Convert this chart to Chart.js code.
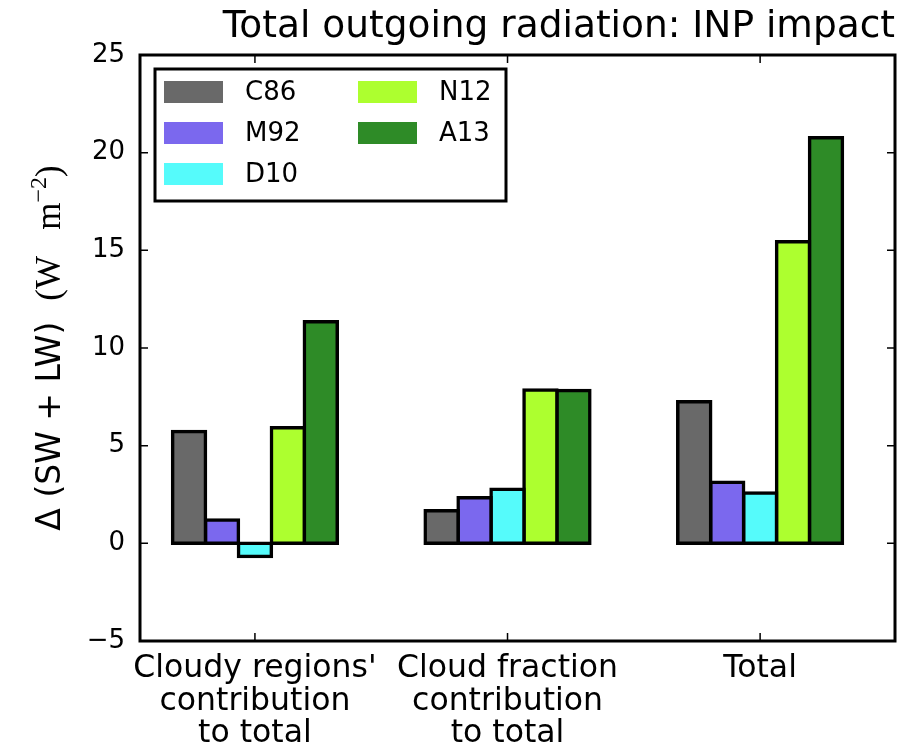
<!DOCTYPE html>
<html>
<head>
<meta charset="utf-8">
<script src="https://cdn.jsdelivr.net/npm/chart.js@4/dist/chart.umd.min.js"></script>
<style>
  html, body { margin: 0; padding: 0; background: #fff; }
  #wrap { width: 914px; height: 753px; }
</style>
</head>
<body>
<div id="wrap"><canvas id="inp"></canvas></div>
<script>
// categories (multi-line tick labels) and per-scheme values, W m-2
const categories = [
  ["Cloudy regions'", 'contribution', 'to total'],
  ['Cloud fraction', 'contribution', 'to total'],
  ['Total']
];
const schemes = ['C86', 'M92', 'D10', 'N12', 'A13'];
const c86 = [5.73, 1.67, 7.25];
const m92 = [1.2, 2.33, 3.13];
const d10 = [-0.68, 2.77, 2.58];
const n12 = [5.92, 7.85, 15.44];
const a13 = [11.35, 7.83, 20.76];
const colours = ['#696969', '#7b68ee', '#55fbfb', '#adff2f', '#2e8b27'];
const yTicks = [-5, 0, 5, 10, 15, 20, 25];

const FONT = 'DejaVu Sans';

const series = [c86, m92, d10, n12, a13];

const datasets = series.map((vals, k) => ({
  label: schemes[k],
  data: vals.map((v, i) => ({ x: i, y: v })),
  backgroundColor: colours[k],
  borderColor: '#000',
  borderWidth: 3.5,
  borderSkipped: false,
  inflateAmount: 1.75,
  categoryPercentage: 0.652,
  barPercentage: 1.0
}));

// frame with inward ticks on all four sides, legend box, rotated y label
const frame = {
  id: 'frame',
  afterDatasetsDraw(chart) {
    const { ctx, chartArea: a, scales: { x, y } } = chart;
    ctx.save();
    ctx.strokeStyle = '#000';
    ctx.lineWidth = 1.5;
    ctx.beginPath();
    yTicks.forEach(v => {
      const py = y.getPixelForValue(v);
      ctx.moveTo(a.left, py); ctx.lineTo(a.left + 8, py);
      ctx.moveTo(a.right, py); ctx.lineTo(a.right - 8, py);
    });
    [0, 1, 2].forEach(v => {
      const px = x.getPixelForValue(v);
      ctx.moveTo(px, a.bottom); ctx.lineTo(px, a.bottom - 8);
      ctx.moveTo(px, a.top); ctx.lineTo(px, a.top + 8);
    });
    ctx.stroke();
    ctx.lineWidth = 3;
    ctx.strokeRect(a.left, a.top, a.right - a.left, a.bottom - a.top);

    // legend, two columns filled top to bottom
    ctx.fillStyle = '#fff';
    ctx.fillRect(155, 69, 351, 132);
    ctx.strokeRect(155, 69, 351, 132);
    ctx.font = '26px "' + FONT + '"';
    ctx.textBaseline = 'middle';
    chart.data.datasets.forEach((ds, k) => {
      const col = Math.floor(k / 3), row = k % 3;
      const sx = col ? 358 : 164;
      const cy = 92 + row * 41;
      ctx.fillStyle = ds.backgroundColor;
      ctx.fillRect(sx, cy - 11, 59, 22);
      ctx.fillStyle = '#000';
      ctx.fillText(ds.label, sx + 81, cy + 1);
    });

    // y axis title: sans part plus serif units with superscript
    const parts = [
      { t: 'Δ (SW + LW)  ', f: '33px "' + FONT + '"', dy: 0 },
      { t: '(W   m', f: '35px "Liberation Serif"', dy: 0 },
      { t: '−2', f: '24px "Liberation Serif"', dy: -14 },
      { t: ')', f: '35px "Liberation Serif"', dy: 0 }
    ];
    let total = 0;
    parts.forEach(p => { ctx.font = p.f; p.w = ctx.measureText(p.t).width; total += p.w; });
    ctx.translate(60, (a.top + a.bottom) / 2);
    ctx.rotate(-Math.PI / 2);
    ctx.textBaseline = 'alphabetic';
    ctx.textAlign = 'left';
    let cx = -total / 2;
    parts.forEach(p => {
      ctx.font = p.f;
      ctx.fillText(p.t, cx, p.dy);
      cx += p.w;
    });
    ctx.restore();
  }
};

new Chart(document.getElementById('inp'), {
  type: 'bar',
  data: { datasets },
  plugins: [frame],
  options: {
    responsive: true,
    maintainAspectRatio: false,
    animation: false,
    layout: { padding: { left: 0, right: 19, top: 0, bottom: 0 } },
    plugins: {
      legend: { display: false },
      tooltip: { enabled: false },
      title: {
        display: true,
        text: 'Total outgoing radiation: INP impact',
        align: 'end',
        color: '#000',
        font: { family: FONT, size: 37.5, weight: 'normal', lineHeight: 1.2 },
        padding: { top: 5, bottom: 5 }
      }
    },
    scales: {
      x: {
        type: 'linear',
        min: -0.455,
        max: 2.534,
        offset: false,
        grid: { display: false, drawTicks: false },
        border: { display: false },
        afterBuildTicks: s => { s.ticks = [0, 1, 2].map(v => ({ value: v })); },
        afterFit: s => { s.height = 112; s.paddingLeft = 0; s.paddingRight = 0; },
        ticks: {
          color: '#000',
          padding: 12,
          maxRotation: 0,
          autoSkip: false,
          font: { family: FONT, size: 31.5, lineHeight: 1.03 },
          callback: v => categories[v]
        }
      },
      y: {
        min: -5,
        max: 25,
        grid: { display: false, drawTicks: false },
        border: { display: false },
        afterBuildTicks: s => { s.ticks = yTicks.map(v => ({ value: v })); },
        afterFit: s => { s.width = 140; s.paddingTop = 0; s.paddingBottom = 0; },
        ticks: {
          color: '#000',
          padding: 15,
          font: { family: FONT, size: 26 },
          callback: v => (v < 0 ? '−' + Math.abs(v) : String(v))
        }
      }
    }
  }
});
</script>
</body>
</html>
